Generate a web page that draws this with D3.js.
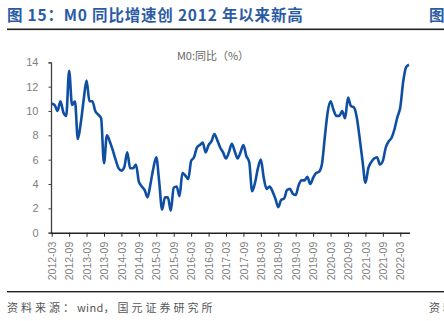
<!DOCTYPE html>
<html><head><meta charset="utf-8">
<script src="https://cdn.jsdelivr.net/npm/d3@7"></script>
<style>body{margin:0;background:#fff;} svg{display:block;}</style>
</head><body>
<svg id="c" width="444" height="321"></svg>
<script>
const startYear = 2012, startMonth = 3;
const m0Yoy = [
10.6,10.5,10.0,10.8,9.9,9.6,13.3,10.5,10.8,7.7,
9.0,10.9,12.5,10.8,10.8,10.0,9.7,9.4,5.7,8.0,
7.5,6.8,6.0,5.3,5.1,5.4,6.6,5.3,5.3,5.6,
4.2,3.8,3.5,2.9,4.0,5.3,6.2,4.2,1.9,2.9,
2.9,1.8,3.7,3.8,3.0,4.9,4.7,4.4,5.9,6.2,
7.0,7.2,7.4,6.6,7.2,7.5,8.1,7.6,7.0,6.6,
6.1,6.6,7.3,6.7,6.1,6.6,7.2,6.3,5.8,3.4,
4.1,5.3,6.0,4.5,3.6,3.8,3.4,2.8,2.1,2.7,
2.8,3.5,3.6,3.2,3.1,3.9,4.3,4.3,4.6,4.0,
4.5,4.9,5.0,5.6,7.8,9.9,10.8,10.1,9.6,9.6,
10.0,9.4,11.1,10.4,10.3,9.5,7.8,5.9,4.1,5.3,
5.8,6.1,6.2,5.6,5.9,7.0,7.5,7.8,8.5,9.5,
10.3,12.4,13.6,13.8
];
const months = m0Yoy.map((_, i) => {
  const t = startMonth - 1 + i;
  return (startYear + Math.floor(t / 12)) + "-" + String(t % 12 + 1).padStart(2, "0");
});
const xTickLabels = ["2012-03","2012-09","2013-03","2013-09","2014-03","2014-09","2015-03","2015-09","2016-03","2016-09","2017-03","2017-09","2018-03","2018-09","2019-03","2019-09","2020-03","2020-09","2021-03","2021-09","2022-03"];
const yTicks = [0,2,4,6,8,10,12,14];
const titleText = "图 15：M0 同比增速创 2012 年以来新高";
const seriesName = "M0:同比（%）";
const sourceParts = ["资料来源：", "wind", "，国元证券研究所"];

const svg = d3.select("#c");
const font = "'Noto Sans CJK SC', 'Liberation Sans', sans-serif";

// title
svg.append("text").attr("x", 7).attr("y", 21).text(titleText)
  .attr("font-family", font).attr("font-weight", "bold").attr("font-size", 15.5)
  .attr("letter-spacing", 0.8).attr("fill", "#2b5ba5");
svg.append("text").attr("x", 429).attr("y", 21).text("图")
  .attr("font-family", font).attr("font-weight", "bold").attr("font-size", 15.5)
  .attr("fill", "#2b5ba5");
svg.append("rect").attr("x", 7).attr("y", 28.5).attr("width", 437).attr("height", 1.6).attr("fill", "#222");

// scales
const x = d3.scaleLinear().domain([0, m0Yoy.length - 1]).range([51.7, 409]);
const y = d3.scaleLinear().domain([0, 14]).range([232.7, 62.3]);

// y axis
const yAxis = svg.append("g").attr("transform", "translate(51,0)")
  .call(d3.axisLeft(y).tickValues(yTicks).tickSize(2.5).tickPadding(10).tickFormat(d3.format("d")));
yAxis.select(".domain").attr("stroke", "#404040").attr("stroke-width", 1.3);
yAxis.selectAll(".tick line").attr("stroke", "#404040");
yAxis.selectAll("text").attr("font-family", "'Liberation Sans', Arial, sans-serif").attr("font-size", 11).attr("fill", "#808080");

// x axis
const tickIdx = xTickLabels.map(l => months.indexOf(l));
const xAxis = svg.append("g").attr("transform", "translate(0,232.7)")
  .call(d3.axisBottom(x).tickValues(tickIdx).tickSize(4).tickSizeOuter(0).tickFormat((d, i) => xTickLabels[i]));
xAxis.select(".domain").attr("stroke", "#222").attr("stroke-width", 1.5).attr("d", "M51,0.5H410");
xAxis.selectAll(".tick line").attr("stroke", "#222");
xAxis.selectAll("text")
  .attr("font-family", "'Liberation Sans', Arial, sans-serif").attr("font-size", 10.5).attr("fill", "#808080")
  .attr("transform", "rotate(-90)").attr("text-anchor", "end").attr("dy", "0.35em").attr("x", -9).attr("y", 0);

// line
const line = d3.line().x((d, i) => x(i)).y(d => y(d)).curve(d3.curveMonotoneX);
svg.append("path").datum(m0Yoy).attr("d", line)
  .attr("fill", "none").attr("stroke", "#0f4fa3").attr("stroke-width", 2.6).attr("stroke-linejoin", "round");

// series label
svg.append("text").attr("x", 213).attr("y", 60).attr("text-anchor", "middle").text(seriesName)
  .attr("font-family", font).attr("font-size", 11).attr("fill", "#666");

// footer
svg.append("rect").attr("x", 7).attr("y", 291).attr("width", 437).attr("height", 1.4).attr("fill", "#222");
const src = svg.append("text").attr("x", 7).attr("y", 312)
  .attr("font-family", font).attr("font-size", 11).attr("fill", "#555");
src.selectAll("tspan").data(sourceParts).join("tspan").text(d => d)
  .attr("letter-spacing", (d, i) => i === 1 ? 0.3 : 3);
svg.append("text").attr("x", 429).attr("y", 312).text("资料")
  .attr("font-family", font).attr("font-size", 11).attr("letter-spacing", 3).attr("fill", "#555");
</script>
</body></html>
